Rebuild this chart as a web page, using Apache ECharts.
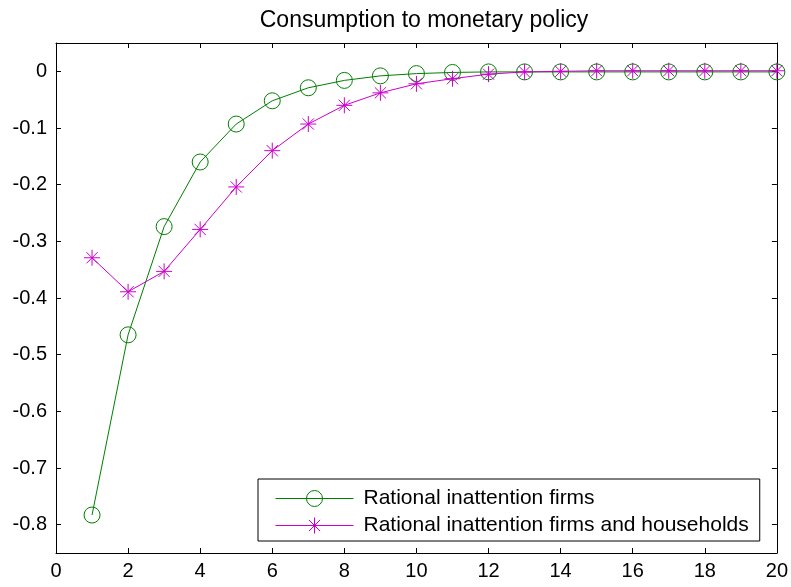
<!DOCTYPE html>
<html>
<head>
<meta charset="utf-8">
<script src="https://cdn.jsdelivr.net/npm/echarts@6/dist/echarts.min.js"></script>
<style>
html,body{margin:0;padding:0;background:#fff;}
#chart{width:791px;height:587px;}
</style>
</head>
<body>
<div id="chart"></div>
<script>
// ---- data ----
const titleText = 'Consumption to monetary policy';
const seriesNames = ['Rational inattention firms', 'Rational inattention firms and households'];
const periods = [1,2,3,4,5,6,7,8,9,10,11,12,13,14,15,16,17,18,19,20];
const riFirms = [-0.783,-0.465,-0.274,-0.160,-0.093,-0.052,-0.029,-0.016,-0.008,-0.004,-0.002,-0.001,-0.001,-0.001,-0.001,-0.001,-0.001,-0.001,-0.001,-0.001];
const riFirmsHouseholds = [-0.329,-0.389,-0.353,-0.279,-0.204,-0.140,-0.093,-0.060,-0.038,-0.022,-0.013,-0.005,-0.001,0.000,0.001,0.001,0.001,0.001,0.001,0.001];
const xTicks = [0,2,4,6,8,10,12,14,16,18,20];
const yTicks = [-0.8,-0.7,-0.6,-0.5,-0.4,-0.3,-0.2,-0.1,0];

// ---- style ----
const FONT = '"Liberation Sans", Arial, Helvetica, sans-serif';
const GREEN = '#008000';
const MAGENTA = '#cc00cc';
const STAR = 'path://M8 0L8 16M0 8L16 8M2.4 2.4L13.6 13.6M2.4 13.6L13.6 2.4';

const chart = echarts.init(document.getElementById('chart'), null, {renderer: 'canvas'});

const tickStyle = {show: true, inside: true, length: 5, lineStyle: {color: '#000', width: 1}};
const lineAxis = {show: true, onZero: false, lineStyle: {color: '#000', width: 1}};

const xBase = {
  type: 'value', min: xTicks[0], max: xTicks[xTicks.length - 1], interval: xTicks[1] - xTicks[0],
  axisLine: lineAxis, splitLine: {show: false}
};
const yBase = {
  type: 'value', min: -0.85, max: 0.05,
  axisLine: lineAxis, splitLine: {show: false}
};

chart.setOption({
  animation: false,
  backgroundColor: '#fff',
  title: {
    text: titleText, left: 419, top: 4, textAlign: 'center',
    textStyle: {fontSize: 23, fontWeight: 'normal', fontFamily: FONT, color: '#000'}
  },
  grid: {left: 56, right: 14, top: 43, bottom: 34, containLabel: false},
  xAxis: [
    Object.assign({}, xBase, {
      position: 'bottom',
      axisTick: tickStyle,
      axisLabel: {color: '#000', fontSize: 20, fontFamily: FONT, margin: 8}
    }),
    Object.assign({}, xBase, {
      position: 'top',
      axisTick: tickStyle,
      axisLabel: {show: false}
    })
  ],
  yAxis: [
    Object.assign({}, yBase, {
      position: 'left',
      axisTick: Object.assign({}, tickStyle, {customValues: yTicks}),
      axisLabel: {color: '#000', fontSize: 20, fontFamily: FONT, margin: 9, customValues: yTicks}
    }),
    Object.assign({}, yBase, {
      position: 'right',
      axisTick: Object.assign({}, tickStyle, {customValues: yTicks}),
      axisLabel: {show: false}
    })
  ],
  legend: {
    orient: 'vertical', left: 258, top: 479,
    itemWidth: 78, itemHeight: 20, itemGap: 6,
    padding: [9, 11, 5, 17],
    borderColor: '#000', borderWidth: 1, borderRadius: 0,
    backgroundColor: '#fff',
    selectedMode: false,
    itemStyle: {borderWidth: 1},
    lineStyle: {width: 1},
    textStyle: {fontSize: 21, fontFamily: FONT, color: '#000', width: 385, lineHeight: 20, padding: [0, 0, 0, 5]},
    data: seriesNames
  },
  series: [
    {
      name: seriesNames[0], type: 'line',
      data: periods.map((p, i) => [p, riFirms[i]]),
      symbol: 'circle', symbolSize: 16, showSymbol: true,
      lineStyle: {color: GREEN, width: 1},
      itemStyle: {color: 'rgba(0,0,0,0)', borderColor: GREEN, borderWidth: 1},
      emphasis: {disabled: true}, z: 2
    },
    {
      name: seriesNames[1], type: 'line',
      data: periods.map((p, i) => [p, riFirmsHouseholds[i]]),
      symbol: STAR, symbolSize: 16, showSymbol: true,
      lineStyle: {color: MAGENTA, width: 1},
      itemStyle: {color: 'rgba(0,0,0,0)', borderColor: MAGENTA, borderWidth: 1},
      emphasis: {disabled: true}, z: 3
    }
  ]
});
</script>
</body>
</html>
